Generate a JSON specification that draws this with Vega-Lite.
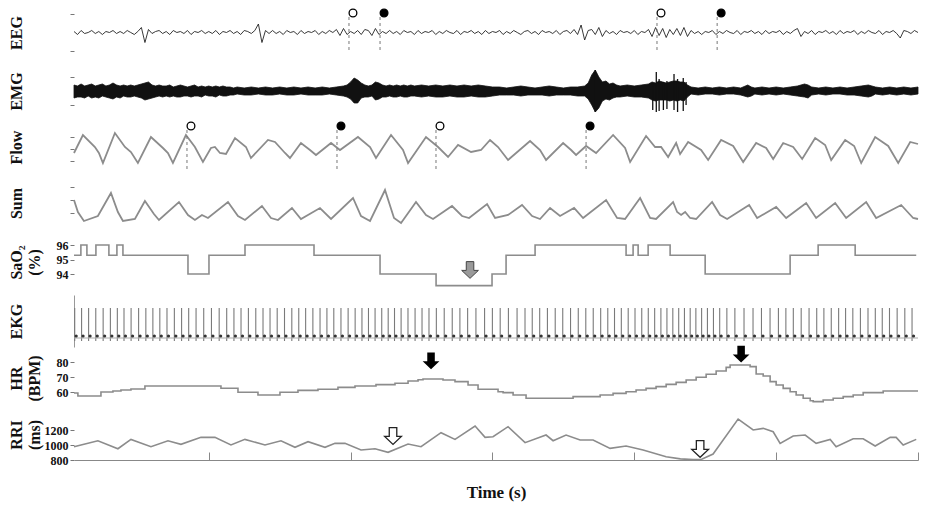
{
"$schema": "https://vega.github.io/schema/vega-lite/v6.json",
"padding": {"left": 8, "top": 5, "right": 10, "bottom": 5},
"bounds": "flush",
"spacing": 5,
"resolve": {"scale": {"y": "independent", "x": "shared"}},
"config": {
  "view": {"stroke": null},
  "font": "Liberation Serif",
  "axis": {"grid": false, "domain": false, "tickColor": "#777", "tickSize": 4, "labelPadding": 2, "labelFont": "Liberation Serif", "labelFontWeight": "bold", "labelFontSize": 12, "labelColor": "#111", "titleFont": "Liberation Serif", "titleFontWeight": "bold", "titleFontSize": 16, "titleColor": "#111", "titleLineHeight": 18},
  "axisY": {"minExtent": 30, "maxExtent": 30, "format": "d"}
},
"datasets": {
"eeg": [{"t":1,"v":1},{"t":1.5,"v":-2},{"t":2,"v":2},{"t":2.5,"v":-1},{"t":3,"v":0},{"t":3.5,"v":2},{"t":4,"v":-1},{"t":4.5,"v":1},{"t":5,"v":-2},{"t":5.5,"v":1},
{"t":6,"v":0},{"t":6.5,"v":2},{"t":7,"v":-1},{"t":7.5,"v":1},{"t":8,"v":-1},{"t":8.5,"v":2},{"t":9,"v":0},{"t":9.5,"v":-2},{"t":10,"v":1},{"t":10.5,"v":5},
{"t":11,"v":-10},{"t":11.5,"v":3},{"t":12,"v":-1},{"t":12.5,"v":1},{"t":13,"v":2},{"t":13.5,"v":-1},{"t":14,"v":1},{"t":14.5,"v":-2},{"t":15,"v":2},{"t":15.5,"v":0},
{"t":16,"v":1},{"t":16.5,"v":-1},{"t":17,"v":2},{"t":17.5,"v":-2},{"t":18,"v":1},{"t":18.5,"v":0},{"t":19,"v":2},{"t":19.5,"v":-1},{"t":20,"v":1},{"t":20.5,"v":-1},
{"t":21,"v":2},{"t":21.5,"v":-2},{"t":22,"v":1},{"t":22.5,"v":0},{"t":23,"v":2},{"t":23.5,"v":-1},{"t":24,"v":1},{"t":24.5,"v":-2},{"t":25,"v":2},{"t":25.5,"v":1},
{"t":26,"v":-1},{"t":26.5,"v":2},{"t":27,"v":8.5},{"t":27.5,"v":-10},{"t":28,"v":2},{"t":28.5,"v":-1},{"t":29,"v":2},{"t":29.5,"v":-1},{"t":30,"v":1},{"t":30.5,"v":-2},
{"t":31,"v":2},{"t":31.5,"v":0},{"t":32,"v":1},{"t":32.5,"v":-2},{"t":33,"v":2},{"t":33.5,"v":-1},{"t":34,"v":1},{"t":34.5,"v":0},{"t":35,"v":2},{"t":35.5,"v":-2},
{"t":36,"v":1},{"t":36.5,"v":-1},{"t":37,"v":2},{"t":37.5,"v":0},{"t":38,"v":3},{"t":38.5,"v":-3},{"t":39,"v":4},{"t":39.5,"v":-2},{"t":40,"v":1},{"t":40.5,"v":-1},
{"t":41,"v":2},{"t":41.5,"v":-2},{"t":42,"v":3},{"t":42.5,"v":2},{"t":43,"v":-3},{"t":43.5,"v":4},{"t":44,"v":-2},{"t":44.5,"v":1},{"t":45,"v":-1},{"t":45.5,"v":2},
{"t":46,"v":-1},{"t":46.5,"v":1},{"t":47,"v":-2},{"t":47.5,"v":2},{"t":48,"v":0},{"t":48.5,"v":1},{"t":49,"v":-2},{"t":49.5,"v":2},{"t":50,"v":-1},{"t":50.5,"v":1},
{"t":51,"v":0},{"t":51.5,"v":2},{"t":52,"v":-2},{"t":52.5,"v":1},{"t":53,"v":-1},{"t":53.5,"v":2},{"t":54,"v":0},{"t":54.5,"v":-1},{"t":55,"v":2},{"t":55.5,"v":-2},
{"t":56,"v":1},{"t":56.5,"v":0},{"t":57,"v":2},{"t":57.5,"v":-1},{"t":58,"v":1},{"t":58.5,"v":-2},{"t":59,"v":2},{"t":59.5,"v":-1},{"t":60,"v":1},{"t":60.5,"v":0},
{"t":61,"v":2},{"t":61.5,"v":-2},{"t":62,"v":1},{"t":62.5,"v":-1},{"t":63,"v":2},{"t":63.5,"v":0},{"t":64,"v":-2},{"t":64.5,"v":1},{"t":65,"v":2},{"t":65.5,"v":-1},
{"t":66,"v":1},{"t":66.5,"v":-2},{"t":67,"v":2},{"t":67.5,"v":0},{"t":68,"v":1},{"t":68.5,"v":-1},{"t":69,"v":2},{"t":69.5,"v":-2},{"t":70,"v":1},{"t":70.5,"v":2},
{"t":71,"v":-1},{"t":71.5,"v":3},{"t":72,"v":-2},{"t":72.5,"v":7.5},{"t":73,"v":-7.5},{"t":73.5,"v":2},{"t":74,"v":3},{"t":74.5,"v":-2},{"t":75,"v":5},{"t":75.5,"v":-4},
{"t":76,"v":2},{"t":76.5,"v":-1},{"t":77,"v":1},{"t":77.5,"v":-2},{"t":78,"v":2},{"t":78.5,"v":0},{"t":79,"v":1},{"t":79.5,"v":-1},{"t":80,"v":2},{"t":80.5,"v":-2},
{"t":81,"v":1},{"t":81.5,"v":0},{"t":82,"v":3},{"t":82.5,"v":-4},{"t":83,"v":5},{"t":83.5,"v":-3},{"t":84,"v":4},{"t":84.5,"v":-5},{"t":85,"v":3},{"t":85.5,"v":-2},
{"t":86,"v":4},{"t":86.5,"v":-3},{"t":87,"v":5},{"t":87.5,"v":-4},{"t":88,"v":2},{"t":88.5,"v":-1},{"t":89,"v":1},{"t":89.5,"v":-2},{"t":90,"v":1},{"t":90.5,"v":0},
{"t":91,"v":2},{"t":91.5,"v":-2},{"t":92,"v":1},{"t":92.5,"v":-1},{"t":93,"v":2},{"t":93.5,"v":0},{"t":94,"v":-1},{"t":94.5,"v":2},{"t":95,"v":-2},{"t":95.5,"v":1},
{"t":96,"v":0},{"t":96.5,"v":2},{"t":97,"v":-1},{"t":97.5,"v":1},{"t":98,"v":-2},{"t":98.5,"v":2},{"t":99,"v":-1},{"t":99.5,"v":1},{"t":100,"v":0},{"t":100.5,"v":2},
{"t":101,"v":-2},{"t":101.5,"v":1},{"t":102,"v":-1},{"t":102.5,"v":2},{"t":103,"v":4},{"t":103.5,"v":-4},{"t":104,"v":1},{"t":104.5,"v":-1},{"t":105,"v":2},{"t":105.5,"v":-2},
{"t":106,"v":1},{"t":106.5,"v":0},{"t":107,"v":2},{"t":107.5,"v":-1},{"t":108,"v":1},{"t":108.5,"v":-2},{"t":109,"v":2},{"t":109.5,"v":-1},{"t":110,"v":1},{"t":110.5,"v":0},
{"t":111,"v":2},{"t":111.5,"v":-2},{"t":112,"v":1},{"t":112.5,"v":-1},{"t":113,"v":2},{"t":113.5,"v":0},{"t":114,"v":-1},{"t":114.5,"v":2},{"t":115,"v":-2},{"t":115.5,"v":1},
{"t":116,"v":0},{"t":116.5,"v":2},{"t":117,"v":-1},{"t":117.5,"v":-5.5},{"t":118,"v":2},{"t":118.5,"v":1},{"t":119,"v":-1},{"t":119.5,"v":2},{"t":120,"v":0}],
"eegMarks": [{"t":39.77,"type":"open"},{"t":44.15,"type":"filled"},{"t":83.2,"type":"open"},{"t":91.68,"type":"filled"}],
"flowMarks": [{"t":16.93,"type":"open"},{"t":38.08,"type":"filled"},{"t":52.04,"type":"open"},{"t":73.2,"type":"filled"}],
"emg": [{"t":1,"hi":6,"lo":-7},{"t":1.5,"hi":5,"lo":-6},{"t":2,"hi":7,"lo":-6},{"t":2.5,"hi":5,"lo":-7},{"t":3,"hi":6,"lo":-5},{"t":3.5,"hi":7,"lo":-7},{"t":4,"hi":5,"lo":-6},{"t":4.5,"hi":6,"lo":-7},{"t":5,"hi":7,"lo":-5},{"t":5.5,"hi":5,"lo":-6},
{"t":6,"hi":6,"lo":-7},{"t":6.5,"hi":8,"lo":-8},{"t":7,"hi":6,"lo":-6},{"t":7.5,"hi":5,"lo":-7},{"t":8,"hi":6,"lo":-5},{"t":8.5,"hi":5,"lo":-6},{"t":9,"hi":6,"lo":-6},{"t":9.5,"hi":5,"lo":-5},{"t":10,"hi":6,"lo":-6},{"t":10.5,"hi":7,"lo":-7},
{"t":11,"hi":8,"lo":-9},{"t":11.5,"hi":9,"lo":-8},{"t":12,"hi":6,"lo":-7},{"t":12.5,"hi":5,"lo":-6},{"t":13,"hi":6,"lo":-5},{"t":13.5,"hi":5,"lo":-6},{"t":14,"hi":5,"lo":-5},{"t":14.5,"hi":6,"lo":-6},{"t":15,"hi":4,"lo":-5},{"t":15.5,"hi":5,"lo":-6},
{"t":16,"hi":6,"lo":-6},{"t":16.5,"hi":5,"lo":-5},{"t":17,"hi":4,"lo":-5},{"t":17.5,"hi":5,"lo":-6},{"t":18,"hi":6,"lo":-5},{"t":18.5,"hi":4,"lo":-5},{"t":19,"hi":5,"lo":-6},{"t":19.5,"hi":4,"lo":-4},{"t":20,"hi":5,"lo":-5},{"t":20.5,"hi":4,"lo":-5},
{"t":21,"hi":5,"lo":-6},{"t":21.5,"hi":4,"lo":-4},{"t":22,"hi":5,"lo":-5},{"t":22.5,"hi":4,"lo":-5},{"t":23,"hi":4,"lo":-4},{"t":23.5,"hi":3,"lo":-4},{"t":24,"hi":4,"lo":-3},{"t":25,"hi":3,"lo":-4},{"t":26,"hi":4,"lo":-4},{"t":27,"hi":3,"lo":-3},
{"t":28,"hi":4,"lo":-4},{"t":29,"hi":3,"lo":-4},{"t":30,"hi":4,"lo":-3},{"t":31,"hi":3,"lo":-4},{"t":32,"hi":4,"lo":-4},{"t":33,"hi":3,"lo":-3},{"t":34,"hi":4,"lo":-4},{"t":35,"hi":3,"lo":-4},{"t":36,"hi":4,"lo":-4},{"t":37,"hi":3,"lo":-3},
{"t":38,"hi":4,"lo":-4},{"t":39,"hi":5,"lo":-5},{"t":39.5,"hi":6,"lo":-6},{"t":40,"hi":9,"lo":-8},{"t":40.5,"hi":13,"lo":-12},{"t":41,"hi":11,"lo":-12},{"t":41.5,"hi":8,"lo":-7},{"t":42,"hi":6,"lo":-6},{"t":42.5,"hi":5,"lo":-6},{"t":43,"hi":6,"lo":-5},
{"t":43.5,"hi":9,"lo":-9},{"t":44,"hi":8,"lo":-8},{"t":44.5,"hi":6,"lo":-6},{"t":45,"hi":5,"lo":-6},{"t":45.5,"hi":6,"lo":-5},{"t":46,"hi":5,"lo":-6},{"t":46.5,"hi":6,"lo":-6},{"t":47,"hi":5,"lo":-5},{"t":47.5,"hi":6,"lo":-6},{"t":48,"hi":5,"lo":-6},
{"t":48.5,"hi":6,"lo":-5},{"t":49,"hi":5,"lo":-5},{"t":50,"hi":6,"lo":-6},{"t":51,"hi":5,"lo":-5},{"t":52,"hi":6,"lo":-6},{"t":53,"hi":5,"lo":-6},{"t":54,"hi":6,"lo":-5},{"t":55,"hi":5,"lo":-6},{"t":56,"hi":6,"lo":-6},{"t":57,"hi":5,"lo":-5},
{"t":58,"hi":6,"lo":-6},{"t":59,"hi":5,"lo":-6},{"t":60,"hi":4,"lo":-5},{"t":61,"hi":4,"lo":-4},{"t":62,"hi":3,"lo":-4},{"t":63,"hi":4,"lo":-4},{"t":64,"hi":5,"lo":-5},{"t":65,"hi":4,"lo":-4},{"t":66,"hi":3,"lo":-4},{"t":67,"hi":4,"lo":-4},
{"t":68,"hi":5,"lo":-5},{"t":69,"hi":4,"lo":-4},{"t":70,"hi":3,"lo":-4},{"t":71,"hi":4,"lo":-4},{"t":72,"hi":4,"lo":-5},{"t":73,"hi":5,"lo":-5},{"t":73.5,"hi":8,"lo":-8},{"t":74,"hi":16,"lo":-14},{"t":74.5,"hi":21,"lo":-21},{"t":75,"hi":14,"lo":-17},
{"t":75.5,"hi":9,"lo":-10},{"t":76,"hi":10,"lo":-8},{"t":76.5,"hi":7,"lo":-9},{"t":77,"hi":8,"lo":-7},{"t":77.5,"hi":6,"lo":-6},{"t":78,"hi":5,"lo":-6},{"t":79,"hi":6,"lo":-5},{"t":80,"hi":5,"lo":-6},{"t":81,"hi":6,"lo":-6},{"t":82,"hi":7,"lo":-7},
{"t":82.5,"hi":9,"lo":-9},{"t":83,"hi":8,"lo":-10},{"t":83.5,"hi":10,"lo":-9},{"t":84,"hi":9,"lo":-9},{"t":84.5,"hi":8,"lo":-9},{"t":85,"hi":9,"lo":-10},{"t":85.5,"hi":10,"lo":-9},{"t":86,"hi":10,"lo":-10},{"t":86.5,"hi":9,"lo":-9},{"t":87,"hi":9,"lo":-10},
{"t":87.5,"hi":6,"lo":-6},{"t":88,"hi":4,"lo":-3},{"t":89,"hi":3,"lo":-4},{"t":90,"hi":4,"lo":-3},{"t":91,"hi":3,"lo":-3},{"t":92,"hi":4,"lo":-4},{"t":93,"hi":3,"lo":-3},{"t":94,"hi":4,"lo":-3},{"t":95,"hi":3,"lo":-4},{"t":96,"hi":6,"lo":-6},
{"t":96.5,"hi":4,"lo":-5},{"t":97,"hi":3,"lo":-3},{"t":98,"hi":4,"lo":-4},{"t":99,"hi":3,"lo":-3},{"t":100,"hi":4,"lo":-4},{"t":101,"hi":3,"lo":-3},{"t":102,"hi":4,"lo":-4},{"t":103,"hi":5,"lo":-5},{"t":104,"hi":7,"lo":-6},{"t":104.5,"hi":6,"lo":-7},
{"t":105,"hi":4,"lo":-4},{"t":106,"hi":3,"lo":-3},{"t":107,"hi":4,"lo":-4},{"t":108,"hi":3,"lo":-3},{"t":109,"hi":4,"lo":-3},{"t":110,"hi":3,"lo":-4},{"t":111,"hi":4,"lo":-4},{"t":112,"hi":5,"lo":-5},{"t":113,"hi":6,"lo":-6},{"t":113.5,"hi":5,"lo":-5},
{"t":114,"hi":4,"lo":-3},{"t":115,"hi":3,"lo":-4},{"t":116,"hi":4,"lo":-3},{"t":117,"hi":3,"lo":-4},{"t":118,"hi":4,"lo":-3},{"t":119,"hi":3,"lo":-4},{"t":120,"hi":4,"lo":-3}],
"emgSpikes": [{"t":74.5,"hi":21,"lo":-21},{"t":82.6,"hi":8,"lo":-19},{"t":83.1,"hi":19,"lo":-21},{"t":83.5,"hi":12,"lo":-20},{"t":84.1,"hi":9,"lo":-19},{"t":84.6,"hi":10,"lo":-18},{"t":85.6,"hi":17,"lo":-19},{"t":86.1,"hi":12,"lo":-21},{"t":86.9,"hi":13,"lo":-20},{"t":87.3,"hi":9,"lo":-14}],
"flow": [{"t":1,"v":-4},{"t":2.26,"v":14},{"t":3.95,"v":2},{"t":4.51,"v":-4},{"t":5.08,"v":-14},{"t":6.77,"v":16},{"t":8.18,"v":2},{"t":9.03,"v":-3},{"t":10.01,"v":-14},{"t":11.85,"v":12},
{"t":13.54,"v":1},{"t":14.25,"v":-4},{"t":14.95,"v":-14},{"t":16.78,"v":14},{"t":18.05,"v":2},{"t":19.18,"v":-13},{"t":20.31,"v":1},{"t":20.87,"v":2},{"t":21.58,"v":-4},{"t":22.43,"v":-5},
{"t":23.7,"v":11},{"t":25.25,"v":2},{"t":25.95,"v":-9},{"t":28.35,"v":9},{"t":29.34,"v":7},{"t":30.75,"v":-4},{"t":31.45,"v":-9},{"t":33.0,"v":6},{"t":34.27,"v":-1},{"t":35.12,"v":-6},
{"t":37.24,"v":6},{"t":38.5,"v":-1},{"t":41.04,"v":12},{"t":42.74,"v":2},{"t":43.58,"v":-9},{"t":45.7,"v":14},{"t":47.39,"v":-1},{"t":48.1,"v":-14},{"t":50.63,"v":12},{"t":52.33,"v":2},
{"t":53.74,"v":-8},{"t":55.15,"v":4},{"t":56.98,"v":-3},{"t":58.39,"v":-1},{"t":59.66,"v":9},{"t":60.79,"v":2},{"t":62.2,"v":-11},{"t":65.3,"v":8},{"t":66.71,"v":-1},{"t":67.56,"v":-11},
{"t":69.96,"v":6},{"t":71.09,"v":-1},{"t":71.79,"v":-6},{"t":73.2,"v":3},{"t":74.61,"v":-4},{"t":77.01,"v":14},{"t":78.7,"v":1},{"t":79.41,"v":-13},{"t":81.66,"v":13},{"t":82.93,"v":2},
{"t":83.78,"v":2},{"t":84.77,"v":-8},{"t":85.9,"v":6},{"t":86.46,"v":-5},{"t":87.59,"v":7},{"t":89.42,"v":-1},{"t":90.41,"v":-11},{"t":92.24,"v":9},{"t":93.94,"v":3},{"t":95.35,"v":-13},
{"t":97.18,"v":6},{"t":98.59,"v":1},{"t":99.58,"v":-10},{"t":100.99,"v":6},{"t":102.4,"v":2},{"t":103.67,"v":-10},{"t":105.5,"v":11},{"t":106.91,"v":4},{"t":107.76,"v":-11},{"t":109.73,"v":9},
{"t":111.0,"v":3},{"t":111.99,"v":-14},{"t":113.96,"v":12},{"t":115.8,"v":3},{"t":117.21,"v":-14},{"t":118.9,"v":7},{"t":120,"v":5}],
"sum": [{"t":1,"v":0},{"t":1.55,"v":-12},{"t":2.4,"v":-21},{"t":4.37,"v":-16},{"t":6.21,"v":7},{"t":7.19,"v":-12},{"t":7.9,"v":-21},{"t":9.59,"v":-19},{"t":11.0,"v":-1},{"t":12.27,"v":-14},
{"t":12.98,"v":-20},{"t":15.8,"v":-2},{"t":17.07,"v":-15},{"t":18.05,"v":-20},{"t":19.04,"v":-15},{"t":19.89,"v":-18},{"t":22.71,"v":-2},{"t":24.12,"v":-16},{"t":25.11,"v":-20},{"t":27.5,"v":-6},
{"t":28.77,"v":-18},{"t":29.76,"v":-20},{"t":31.73,"v":-8},{"t":33.0,"v":-19},{"t":35.68,"v":-8},{"t":37.24,"v":-19},{"t":40.34,"v":2},{"t":41.47,"v":-16},{"t":42.74,"v":-21},{"t":44.85,"v":10},
{"t":46.12,"v":-18},{"t":47.11,"v":-23},{"t":49.22,"v":-2},{"t":50.63,"v":-15},{"t":51.62,"v":-19},{"t":54.3,"v":-6},{"t":55.71,"v":-16},{"t":56.7,"v":-18},{"t":59.24,"v":-4},{"t":60.37,"v":-18},
{"t":62.2,"v":-15},{"t":64.17,"v":-5},{"t":65.59,"v":-16},{"t":66.71,"v":-19},{"t":68.12,"v":-8},{"t":69.53,"v":-16},{"t":71.51,"v":-8},{"t":72.78,"v":-18},{"t":76.02,"v":0},{"t":77.57,"v":-18},
{"t":78.7,"v":-19},{"t":80.82,"v":2},{"t":82.23,"v":-18},{"t":83.07,"v":-19},{"t":85.47,"v":-2},{"t":86.04,"v":-12},{"t":86.6,"v":-15},{"t":87.17,"v":-12},{"t":87.87,"v":-18},{"t":88.72,"v":-19},
{"t":90.97,"v":-2},{"t":92.1,"v":-15},{"t":93.09,"v":-19},{"t":96.19,"v":-5},{"t":97.32,"v":-18},{"t":100.0,"v":-7},{"t":101.41,"v":-18},{"t":104.23,"v":-3},{"t":105.64,"v":-18},{"t":108.32,"v":-3},
{"t":109.87,"v":-18},{"t":112.69,"v":-2},{"t":114.1,"v":-18},{"t":117.63,"v":-5},{"t":119.32,"v":-18},{"t":120,"v":-19}],
"sao2": [{"t":1,"v":95.3},{"t":1.97,"v":96},{"t":2.82,"v":95.3},{"t":4.09,"v":96},{"t":5.92,"v":95.3},{"t":7.05,"v":96},{"t":7.9,"v":95.3},{"t":17.07,"v":94},{"t":20.03,"v":95.3},{"t":25.11,"v":96},
{"t":34.84,"v":95.3},{"t":44.15,"v":94},{"t":52.05,"v":93.2},{"t":59.94,"v":94},{"t":61.92,"v":95.3},{"t":66.01,"v":96},{"t":78.84,"v":95.3},{"t":79.83,"v":96},{"t":80.54,"v":95.3},{"t":81.95,"v":96},
{"t":85.05,"v":95.3},{"t":89.99,"v":94},{"t":101.97,"v":95.3},{"t":105.92,"v":96},{"t":111.14,"v":95.3},{"t":119.75,"v":95.3}],
"ekg": [{"t":1.1},{"t":2.07},{"t":3.06},{"t":4.07},{"t":5.11},{"t":6.13},{"t":7.11},{"t":8.05},{"t":9.05},{"t":10.11},{"t":11.13},{"t":12.12},{"t":13.1},{"t":14.11},{"t":15.15},{"t":16.17},{"t":17.17},{"t":18.21},{"t":19.29},{"t":20.38},
{"t":21.47},{"t":22.53},{"t":23.55},{"t":24.55},{"t":25.59},{"t":26.63},{"t":27.65},{"t":28.64},{"t":29.65},{"t":30.68},{"t":31.71},{"t":32.69},{"t":33.66},{"t":34.68},{"t":35.69},{"t":36.66},{"t":37.63},{"t":38.64},{"t":39.65},{"t":40.64},
{"t":41.6},{"t":42.52},{"t":43.45},{"t":44.39},{"t":45.3},{"t":46.19},{"t":47.12},{"t":48.09},{"t":49.09},{"t":50.07},{"t":51.05},{"t":52.09},{"t":53.2},{"t":54.33},{"t":55.41},{"t":56.5},{"t":57.67},{"t":58.89},{"t":59.99},{"t":61.09},
{"t":62.25},{"t":63.47},{"t":64.59},{"t":65.61},{"t":66.66},{"t":67.75},{"t":68.85},{"t":69.91},{"t":71.01},{"t":72.1},{"t":73.16},{"t":74.21},{"t":75.26},{"t":76.26},{"t":77.21},{"t":78.17},{"t":79.14},{"t":80.1},{"t":81.05},{"t":81.97},
{"t":82.87},{"t":83.75},{"t":84.6},{"t":85.43},{"t":86.26},{"t":87.07},{"t":87.88},{"t":88.68},{"t":89.49},{"t":90.31},{"t":91.16},{"t":92.04},{"t":93.05},{"t":94.18},{"t":95.47},{"t":96.74},{"t":97.93},{"t":99.14},{"t":100.32},{"t":101.37},
{"t":102.42},{"t":103.53},{"t":104.64},{"t":105.72},{"t":106.73},{"t":107.77},{"t":108.81},{"t":109.79},{"t":110.81},{"t":111.88},{"t":112.95},{"t":113.98},{"t":114.96},{"t":115.98},{"t":117.06},{"t":118.14},{"t":119.16}],
"hr": [{"t":1,"v":59.3},{"t":1.55,"v":57.3},{"t":4.8,"v":60},{"t":6.49,"v":60.7},{"t":7.62,"v":61.3},{"t":9.03,"v":62},{"t":11,"v":64},{"t":21.72,"v":62.5},{"t":24.12,"v":59.8},{"t":26.94,"v":58},
{"t":30.04,"v":59.8},{"t":32.58,"v":61.1},{"t":35.4,"v":61.8},{"t":38.22,"v":63.1},{"t":40.62,"v":64},{"t":43.58,"v":64.9},{"t":46.26,"v":65.8},{"t":48.1,"v":67.3},{"t":49.51,"v":68.2},{"t":50.21,"v":68.7},
{"t":53.03,"v":68},{"t":54.72,"v":66.9},{"t":56.56,"v":64.7},{"t":57.97,"v":61.8},{"t":60.79,"v":60.2},{"t":61.5,"v":59.6},{"t":62.91,"v":58},{"t":64.74,"v":55.8},{"t":71.37,"v":56.9},{"t":75.18,"v":58},
{"t":77.01,"v":59.1},{"t":78.84,"v":60.2},{"t":80.25,"v":61.3},{"t":81.66,"v":62.4},{"t":83.07,"v":63.6},{"t":84.49,"v":65.1},{"t":85.9,"v":66.4},{"t":87.31,"v":68},{"t":88.72,"v":69.8},{"t":90.13,"v":71.8},
{"t":91.54,"v":74},{"t":92.95,"v":76.4},{"t":93.51,"v":78},{"t":96.33,"v":76.9},{"t":97.18,"v":72},{"t":98.17,"v":70.7},{"t":99.15,"v":66.9},{"t":100,"v":64.7},{"t":100.99,"v":62.4},{"t":101.97,"v":60.2},
{"t":102.82,"v":58},{"t":103.81,"v":55.8},{"t":104.8,"v":54.2},{"t":105.22,"v":53.6},{"t":106.63,"v":54.7},{"t":108.04,"v":55.8},{"t":109.45,"v":56.9},{"t":110.86,"v":58},{"t":112.27,"v":59.6},{"t":115.09,"v":60.7},{"t":120,"v":60.7}],
"rri": [{"t":1,"v":977},{"t":4.37,"v":1057},{"t":7.19,"v":950},{"t":9.03,"v":1075},{"t":11.85,"v":977},{"t":14.25,"v":1057},{"t":16.08,"v":1009},{"t":18.9,"v":1102},{"t":20.87,"v":1102},{"t":23.13,"v":1000},
{"t":25.1,"v":1075},{"t":27.93,"v":1000},{"t":30.18,"v":1057},{"t":32.16,"v":969},{"t":34.0,"v":1044},{"t":36.39,"v":969},{"t":37.8,"v":1022},{"t":39.21,"v":1022},{"t":41.47,"v":933},{"t":43.44,"v":950},
{"t":45.28,"v":902},{"t":48.1,"v":1013},{"t":49.93,"v":977},{"t":52.75,"v":1164},{"t":54.72,"v":1075},{"t":57.55,"v":1253},{"t":58.96,"v":1102},{"t":60.08,"v":1110},{"t":62.2,"v":1244},{"t":64.6,"v":1031},
{"t":67.56,"v":1133},{"t":68.55,"v":1057},{"t":70.38,"v":1133},{"t":72.36,"v":1066},{"t":74.19,"v":1066},{"t":76.59,"v":955},{"t":78.84,"v":986},{"t":81.24,"v":933},{"t":84.49,"v":844},{"t":86.5,"v":815},
{"t":88.29,"v":805},{"t":89.5,"v":810},{"t":91.11,"v":880},{"t":94.64,"v":1346},{"t":96.76,"v":1200},{"t":98.17,"v":1222},{"t":99.58,"v":1177},{"t":100.56,"v":1022},{"t":102.4,"v":1120},{"t":104.09,"v":1133},
{"t":105.64,"v":1022},{"t":107.62,"v":1075},{"t":108.46,"v":977},{"t":110.86,"v":1084},{"t":112.27,"v":1084},{"t":113.96,"v":986},{"t":116.08,"v":1102},{"t":116.92,"v":1102},{"t":117.91,"v":1000},{"t":119.75,"v":1075}],
"sao2Arrow": [{"t":56.84,"v":94.28}],
"hrArrows": [{"t":51.34,"v":80.7},{"t":95.06,"v":85.3}],
"rriArrows": [{"t":45.98,"v":1120},{"t":89.28,"v":947}]
},
"vconcat": [
{"width": 844, "height": 55, "layer": [
  {"data": {"name": "eeg"}, "mark": {"type": "line", "color": "#222", "strokeWidth": 0.9},
   "encoding": {"x": {"field": "t", "type": "quantitative", "scale": {"domain": [1, 120], "nice": false, "zero": false}, "axis": null},
     "y": {"field": "v", "type": "quantitative", "scale": {"domain": [-27.5, 27.5], "nice": false, "zero": false}, "axis": {"title": "EEG", "titlePadding": 20, "values": [-18.5, 18.5], "labels": false}}}},
  {"data": {"name": "eegMarks"}, "mark": {"type": "rule", "color": "#777", "strokeDash": [3, 3], "strokeWidth": 1},
   "encoding": {"x": {"field": "t", "type": "quantitative", "axis": null}, "y": {"datum": 15.5, "axis": {"title": "EEG", "titlePadding": 20, "values": [-18.5, 18.5], "labels": false}}, "y2": {"datum": -20.5}}},
  {"data": {"name": "eegMarks"}, "mark": {"type": "point", "shape": "circle", "filled": true, "size": 60, "stroke": "#000", "strokeWidth": 1.3, "xOffset": 4, "opacity": 1},
   "encoding": {"x": {"field": "t", "type": "quantitative", "axis": null}, "y": {"datum": 19.5, "axis": {"title": "EEG", "titlePadding": 20, "values": [-18.5, 18.5], "labels": false}},
     "fill": {"field": "type", "type": "nominal", "scale": {"domain": ["open", "filled"], "range": ["#ffffff", "#000000"]}, "legend": null}}}
]},
{"width": 844, "height": 52, "layer": [
  {"data": {"name": "emg"}, "mark": {"type": "area", "color": "#111", "stroke": "#111", "strokeWidth": 0.8},
   "encoding": {"x": {"field": "t", "type": "quantitative", "scale": {"domain": [1, 120], "nice": false, "zero": false}, "axis": null},
     "y": {"field": "hi", "type": "quantitative", "scale": {"domain": [-26, 26], "nice": false, "zero": false}, "axis": {"title": "EMG", "titlePadding": 20, "values": [-14, 14], "labels": false}},
     "y2": {"field": "lo"}}},
  {"data": {"name": "emgSpikes"}, "mark": {"type": "rule", "color": "#111", "strokeWidth": 1.3},
   "encoding": {"x": {"field": "t", "type": "quantitative", "axis": null}, "y": {"field": "hi", "type": "quantitative", "axis": {"title": "EMG", "titlePadding": 20, "values": [-14, 14], "labels": false}}, "y2": {"field": "lo"}}}
]},
{"width": 844, "height": 50, "layer": [
  {"data": {"name": "flow"}, "mark": {"type": "line", "color": "#8c8c8c", "strokeWidth": 1.8},
   "encoding": {"x": {"field": "t", "type": "quantitative", "scale": {"domain": [1, 120], "nice": false, "zero": false}, "axis": null},
     "y": {"field": "v", "type": "quantitative", "scale": {"domain": [-23, 27], "nice": false, "zero": false}, "axis": {"title": "Flow", "titlePadding": 20, "values": [-12, 0, 12], "labels": false}}}},
  {"data": {"name": "flowMarks"}, "mark": {"type": "rule", "color": "#777", "strokeDash": [3, 3], "strokeWidth": 1},
   "encoding": {"x": {"field": "t", "type": "quantitative", "axis": null}, "y": {"datum": 19, "axis": {"title": "Flow", "titlePadding": 20, "values": [-12, 0, 12], "labels": false}}, "y2": {"datum": -21}}},
  {"data": {"name": "flowMarks"}, "mark": {"type": "point", "shape": "circle", "filled": true, "size": 60, "stroke": "#000", "strokeWidth": 1.3, "xOffset": 4, "opacity": 1},
   "encoding": {"x": {"field": "t", "type": "quantitative", "axis": null}, "y": {"datum": 23, "axis": {"title": "Flow", "titlePadding": 20, "values": [-12, 0, 12], "labels": false}},
     "fill": {"field": "type", "type": "nominal", "scale": {"domain": ["open", "filled"], "range": ["#ffffff", "#000000"]}, "legend": null}}}
]},
{"width": 844, "height": 52, "layer": [
  {"data": {"name": "sum"}, "mark": {"type": "line", "color": "#8c8c8c", "strokeWidth": 1.8},
   "encoding": {"x": {"field": "t", "type": "quantitative", "scale": {"domain": [1, 120], "nice": false, "zero": false}, "axis": null},
     "y": {"field": "v", "type": "quantitative", "scale": {"domain": [-29, 23], "nice": false, "zero": false}, "axis": {"title": "Sum", "titlePadding": 20, "values": [-13, 0, 13], "labels": false}}}}
]},
{"width": 844, "height": 56, "layer": [
  {"data": {"name": "sao2"}, "mark": {"type": "line", "color": "#8c8c8c", "strokeWidth": 1.6, "interpolate": "step-after"},
   "encoding": {"x": {"field": "t", "type": "quantitative", "scale": {"domain": [1, 120], "nice": false, "zero": false}, "axis": null},
     "y": {"field": "v", "type": "quantitative", "scale": {"domain": [92.9, 96.76], "nice": false, "zero": false}, "axis": {"title": ["SaO₂", "(%)"], "titlePadding": 2, "values": [94, 95, 96]}}}},
  {"data": {"name": "sao2Arrow"}, "mark": {"type": "point", "shape": "M-0.45,-1L0.45,-1L0.45,0.05L1,0.05L0,1L-1,0.05L-0.45,0.05Z", "filled": true, "size": 280, "color": "#9a9a9a", "stroke": "#444", "strokeWidth": 1, "opacity": 1},
   "encoding": {"x": {"field": "t", "type": "quantitative", "axis": null}, "y": {"field": "v", "type": "quantitative", "axis": {"title": ["SaO₂", "(%)"], "titlePadding": 2, "values": [94, 95, 96]}}}}
]},
{"width": 844, "height": 52, "layer": [
  {"data": {"name": "ekg"}, "mark": {"type": "rule", "color": "#7a7a7a", "strokeWidth": 1.1},
   "encoding": {"x": {"field": "t", "type": "quantitative", "scale": {"domain": [1, 120], "nice": false, "zero": false}, "axis": null},
     "y": {"datum": 30, "scale": {"domain": [-9, 43], "nice": false, "zero": false}, "axis": {"title": "EKG", "titlePadding": 20, "ticks": false, "labels": false, "domain": true, "domainColor": "#999"}},
     "y2": {"datum": -3}}},
  {"data": {"values": [{}]}, "mark": {"type": "rule", "color": "#aaa", "strokeWidth": 1},
   "encoding": {"y": {"datum": 0, "axis": {"title": "EKG", "titlePadding": 20, "ticks": false, "labels": false, "domain": true, "domainColor": "#999"}}}},
  {"data": {"name": "ekg"}, "mark": {"type": "point", "filled": true, "color": "#333", "size": 10, "xOffset": 1.5, "opacity": 1},
   "encoding": {"x": {"field": "t", "type": "quantitative", "axis": null}, "y": {"datum": 2, "axis": {"title": "EKG", "titlePadding": 20, "ticks": false, "labels": false, "domain": true, "domainColor": "#999"}}}}
]},
{"width": 844, "height": 52, "layer": [
  {"data": {"name": "hr"}, "mark": {"type": "line", "color": "#8c8c8c", "strokeWidth": 1.6, "interpolate": "step-after"},
   "encoding": {"x": {"field": "t", "type": "quantitative", "scale": {"domain": [1, 120], "nice": false, "zero": false}, "axis": null},
     "y": {"field": "v", "type": "quantitative", "scale": {"domain": [52, 86.67], "nice": false, "zero": false}, "axis": {"title": ["HR", "(BPM)"], "titlePadding": 2, "values": [60, 70, 80]}}}},
  {"data": {"name": "hrArrows"}, "mark": {"type": "point", "shape": "M-0.45,-1L0.45,-1L0.45,0.05L1,0.05L0,1L-1,0.05L-0.45,0.05Z", "filled": true, "size": 280, "color": "#000", "opacity": 1},
   "encoding": {"x": {"field": "t", "type": "quantitative", "axis": null}, "y": {"field": "v", "type": "quantitative", "axis": {"title": ["HR", "(BPM)"], "titlePadding": 2, "values": [60, 70, 80]}}}}
]},
{"width": 844, "height": 51, "layer": [
  {"data": {"name": "rri"}, "mark": {"type": "line", "color": "#8c8c8c", "strokeWidth": 1.6},
   "encoding": {"x": {"field": "t", "type": "quantitative", "scale": {"domain": [1, 120], "nice": false, "zero": false},
       "axis": {"title": "Time (s)", "values": [20, 40, 60, 80, 100, 120], "labels": false, "tickSize": -8, "domain": true, "domainColor": "#888", "tickColor": "#888", "titleFontSize": 17, "titlePadding": 24, "minExtent": 0, "maxExtent": 0}},
     "y": {"field": "v", "type": "quantitative", "scale": {"domain": [800, 1480], "nice": false, "zero": false}, "axis": {"title": ["RRI", "(ms)"], "titlePadding": 2, "values": [800, 1000, 1200]}}}},
  {"data": {"name": "rriArrows"}, "mark": {"type": "point", "shape": "M-0.45,-1L0.45,-1L0.45,0.05L1,0.05L0,1L-1,0.05L-0.45,0.05Z", "filled": true, "size": 280, "color": "#fff", "stroke": "#222", "strokeWidth": 1.3, "opacity": 1},
   "encoding": {"x": {"field": "t", "type": "quantitative", "axis": {"title": "Time (s)", "values": [20, 40, 60, 80, 100, 120], "labels": false, "tickSize": -8, "domain": true, "domainColor": "#888", "tickColor": "#888", "titleFontSize": 17, "titlePadding": 24, "minExtent": 0, "maxExtent": 0}},
     "y": {"field": "v", "type": "quantitative", "axis": {"title": ["RRI", "(ms)"], "titlePadding": 2, "values": [800, 1000, 1200]}}}}
]}
]
}
